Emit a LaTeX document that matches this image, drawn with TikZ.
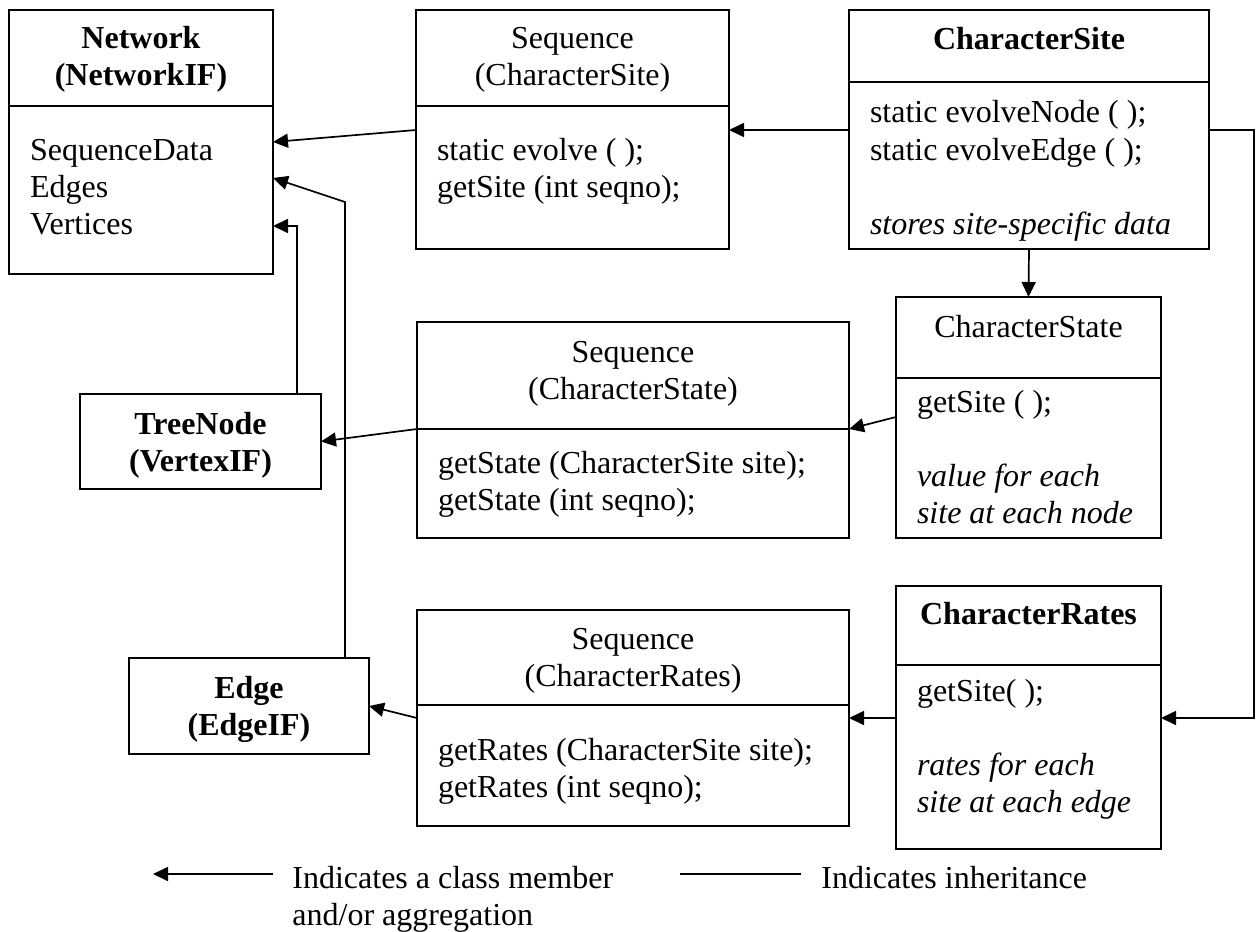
\documentclass[tikz,border=0pt]{standalone}
\usepackage{fontspec}
\setmainfont{Liberation Serif}
\usetikzlibrary{arrows.meta, positioning}

\begin{document}
\begin{tikzpicture}[
    x=1pt, y=-1pt,
    head/.style={draw, line width=0.85pt, outer sep=0pt, inner sep=0pt, anchor=north west,
      text width=#1, align=flush center, font=\fontsize{16}{18.5}\selectfont},
    body/.style={draw, line width=0.85pt, outer sep=0pt, inner xsep=10.5pt, inner ysep=0pt,
      text width=#1-21pt, align=flush left, font=\fontsize{16}{18.5}\selectfont},
    arrow/.style={-{Triangle[length=7.5pt, width=7pt]}, line width=0.85pt},
    note/.style={inner sep=0pt, anchor=base west, text width=#1, align=flush left, font=\fontsize{16}{18.5}\selectfont},
  ]
  \useasboundingbox (0,0) rectangle (628.5,465.5);

  % Network and the two interfaces
  \node[head=132pt, text height=19.5pt, text depth=28.5pt] (net) at (4.5,5) {\bfseries Network\\(NetworkIF)};
  \node[body=132pt, text height=27pt, text depth=57pt, below=0pt of net] (netb) {SequenceData\\Edges\\Vertices};
  \node[head=120.5pt, text height=20pt, text depth=27.5pt] (tree) at (40,197) {\bfseries TreeNode\\(VertexIF)};
  \node[head=120pt, text height=20pt, text depth=28pt] (edge) at (64.5,329) {\bfseries Edge\\(EdgeIF)};

  % Sequences
  \node[head=156.5pt, text height=19.5pt, text depth=28.5pt] (ssite) at (208,5) {Sequence\\(CharacterSite)};
  \node[body=156.5pt, text height=27pt, text depth=44.5pt, below=0pt of ssite] (ssiteb) {static evolve ( );\\getSite (int seqno);};
  \node[head=216pt, text height=20pt, text depth=33.5pt] (sstate) at (208.5,161) {Sequence\\(CharacterState)};
  \node[body=216pt, text height=22pt, text depth=32.5pt, below=0pt of sstate] (sstateb) {getState (CharacterSite site);\\getState (int seqno);};
  \node[head=216pt, text height=19.5pt, text depth=28pt] (srates) at (208.5,305) {Sequence\\(CharacterRates)};
  \node[body=216pt, text height=27.5pt, text depth=33pt, below=0pt of srates] (sratesb) {getRates (CharacterSite site);\\getRates (int seqno);};

  % Characters
  \node[head=180pt, text height=20pt, text depth=16pt] (csite) at (424.5,5) {\bfseries CharacterSite};
  \node[body=180pt, text height=20.5pt, text depth=63pt, below=0pt of csite] (csiteb) {static evolveNode ( );\\static evolveEdge ( );\\[18.5pt]\itshape stores site-specific data};
  \node[head=132.5pt, text height=20pt, text depth=20.5pt] (cstate) at (448,148.5) {CharacterState};
  \node[body=132.5pt, text height=17pt, text depth=63pt, below=0pt of cstate] (cstateb) {getSite ( );\\[18.5pt]\itshape value for each\\site at each node};
  \node[head=132.5pt, text height=19pt, text depth=20.5pt] (crates) at (448,293) {\bfseries CharacterRates};
  \node[body=132.5pt, text height=18pt, text depth=74pt, below=0pt of crates] (cratesb) {getSite( );\\[18.5pt]\itshape rates for each\\site at each edge};

  % Members
  \draw[arrow] ([yshift=-12pt]ssiteb.north west) -- ([yshift=-18pt]netb.north east);
  \draw[arrow] ([yshift=-24pt]csiteb.north west) -- ([yshift=-12pt]ssiteb.north east);
  \draw[arrow] (csiteb.south) -- (cstate.north);
  \coordinate (rail) at (627,65);
  \draw[arrow] ([yshift=-24pt]csiteb.north east) -- (rail) |- ([yshift=-26.5pt]cratesb.north east);
  \draw[arrow] ([yshift=-19.5pt]cstateb.north west) -- (sstate.south east);
  \draw[arrow] (sstate.south west) -- (tree.east);
  \draw[arrow] ([yshift=-26.5pt]cratesb.north west) -- ([yshift=-6.5pt]sratesb.north east);
  \draw[arrow] ([yshift=-6.5pt]sratesb.north west) -- (edge.east);

  % Inheritance
  \draw[arrow] ([xshift=-12pt]tree.north east) |- ([yshift=-60pt]netb.north east);
  \draw[arrow] ([xshift=-12pt]edge.north east) -- ++(0,-228) -- ([yshift=-36pt]netb.north east);

  % Legend
  \node[note=170pt] (legmember) at (146,444) {Indicates a class member\\and/or aggregation};
  \node[note=150pt] (leginh) at (410.5,444) {Indicates inheritance};
  \draw[arrow] ([xshift=-9.5pt, yshift=7pt]legmember.base west) -- ++(-60,0);
  \draw[line width=0.85pt] ([xshift=-10pt, yshift=7pt]leginh.base west) -- ++(-60.5,0);

\end{tikzpicture}
\end{document}
